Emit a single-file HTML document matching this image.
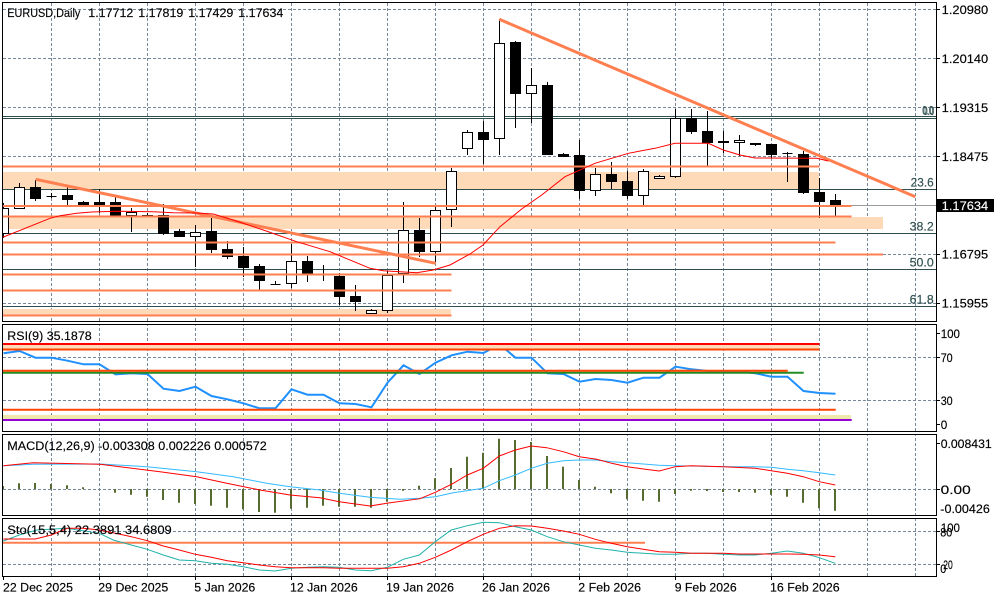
<!DOCTYPE html>
<html><head><meta charset="utf-8"><style>
html,body{margin:0;padding:0;background:#fff;width:1000px;height:600px;overflow:hidden}
svg{display:block}
text{font-family:"Liberation Sans",Arial,sans-serif;font-size:12.4px;fill:#000;stroke:#000;stroke-width:0.15px}
</style></head><body>
<svg width="1000" height="600" viewBox="0 0 1000 600" xmlns="http://www.w3.org/2000/svg">
<defs>
<clipPath id="cm"><rect x="3" y="3" width="933" height="318"/></clipPath>
<clipPath id="cr"><rect x="3" y="325" width="933" height="106"/></clipPath>
<clipPath id="cd"><rect x="3" y="435" width="933" height="80"/></clipPath>
<clipPath id="cs"><rect x="3" y="519" width="933" height="57"/></clipPath>
</defs>
<rect width="1000" height="600" fill="#fff"/>

<!-- grid -->
<g stroke="#778899" stroke-width="1" stroke-dasharray="3,2" fill="none">
<path d="M51.5 3V576M99.5 3V576M147.5 3V576M195.5 3V576M243.5 3V576M291.5 3V576M339.5 3V576M387.5 3V576M435.5 3V576M483.5 3V576M531.5 3V576M579.5 3V576M627.5 3V576M675.5 3V576M723.5 3V576M771.5 3V576M819.5 3V576M867.5 3V576M915.5 3V576"/>
<path d="M3 9.5H936M3 58.5H936M3 107.5H936M3 156.5H936M3 254.5H936M3 303.5H936M3 357.5H936M3 400.5H936M3 489.5H936M3 531.5H936M3 564.5H936"/>
</g>

<!-- MAIN PANEL -->
<g clip-path="url(#cm)">
<g fill="#FFDAB9">
<rect x="3" y="172" width="816" height="17"/>
<rect x="3" y="217" width="880" height="12"/>
<rect x="3" y="309" width="448" height="7"/>
</g>
<path d="M3 205.5H936" stroke="#9a9a9a" stroke-width="1"/>
<g stroke="#2F4F4F" stroke-width="1">
<path d="M3 116.5H936M3 118.5H936M3 189.5H936M3 233.5H936M3 269.5H936M3 306.5H936"/>
</g>
<g stroke="#000" stroke-width="1">
<path d="M3.5 203V238M19.5 183V208M35.5 180V201M51.5 193V198M67.5 187V205M83.5 201V205M99.5 189V213M115.5 197V216M131.5 208V232M147.5 213V216M163.5 204V235M179.5 229V237M195.5 225V267M211.5 218V253M227.5 241V259M243.5 247V277M259.5 264V290M275.5 281V285M291.5 244V288M307.5 256V282M323.5 265V281M339.5 273V305M355.5 285V311M371.5 309V314M387.5 271V313M403.5 202V283M419.5 218V257M435.5 206V262M451.5 168V227M467.5 130V155M483.5 121V164M499.5 19V155M515.5 41V128M531.5 68V123M547.5 82V154M563.5 153V157M579.5 140V199M595.5 168V196M611.5 162V189M627.5 171V199M643.5 169V205M659.5 175V178M675.5 109V178M691.5 109V134M707.5 111V166M723.5 131V153M739.5 135V156M755.5 143V146M771.5 144V158M787.5 152V182M803.5 151V194M819.5 178V218M835.5 194V216"/>
<path d="M46.5 196.5H56.5M270.5 284.5H280.5M782.5 153.5H792.5"/>
</g>
<g stroke="#000" stroke-width="1" fill="#fff">
<rect x="-1.5" y="208.5" width="10" height="25"/>
<rect x="14.5" y="187.5" width="10" height="21"/>
<rect x="126.5" y="212.5" width="10" height="3"/>
<rect x="190.5" y="232.5" width="10" height="4"/>
<rect x="286.5" y="261.5" width="10" height="22"/>
<rect x="366.5" y="310.5" width="10" height="3"/>
<rect x="382.5" y="275.5" width="10" height="35"/>
<rect x="398.5" y="230.5" width="10" height="43"/>
<rect x="430.5" y="210.5" width="10" height="41"/>
<rect x="446.5" y="171.5" width="10" height="38"/>
<rect x="462.5" y="132.5" width="10" height="16"/>
<rect x="494.5" y="43.5" width="10" height="95"/>
<rect x="526.5" y="85.5" width="10" height="8"/>
<rect x="590.5" y="174.5" width="10" height="16"/>
<rect x="638.5" y="171.5" width="10" height="24"/>
<rect x="654.5" y="176.5" width="10" height="2"/>
<rect x="670.5" y="118.5" width="10" height="58"/>
<rect x="734.5" y="140.5" width="10" height="2"/>
</g>
<g stroke="#000" stroke-width="1" fill="#000">
<rect x="30.5" y="187.5" width="10" height="11"/>
<rect x="62.5" y="195.5" width="10" height="4"/>
<rect x="78.5" y="202.5" width="10" height="2"/>
<rect x="94.5" y="202.5" width="10" height="3"/>
<rect x="110.5" y="202.5" width="10" height="13"/>
<rect x="142.5" y="215.5" width="10" height="1"/>
<rect x="158.5" y="215.5" width="10" height="18"/>
<rect x="174.5" y="231.5" width="10" height="5"/>
<rect x="206.5" y="231.5" width="10" height="18"/>
<rect x="222.5" y="249.5" width="10" height="7"/>
<rect x="238.5" y="256.5" width="10" height="11"/>
<rect x="254.5" y="266.5" width="10" height="14"/>
<rect x="302.5" y="261.5" width="10" height="12"/>
<rect x="334.5" y="276.5" width="10" height="20"/>
<rect x="350.5" y="296.5" width="10" height="5"/>
<rect x="414.5" y="230.5" width="10" height="21"/>
<rect x="478.5" y="132.5" width="10" height="7"/>
<rect x="510.5" y="42.5" width="10" height="51"/>
<rect x="542.5" y="85.5" width="10" height="69"/>
<rect x="558.5" y="154.5" width="10" height="2"/>
<rect x="574.5" y="155.5" width="10" height="35"/>
<rect x="606.5" y="174.5" width="10" height="7"/>
<rect x="622.5" y="181.5" width="10" height="14"/>
<rect x="686.5" y="118.5" width="10" height="13"/>
<rect x="702.5" y="131.5" width="10" height="11"/>
<rect x="718.5" y="141.5" width="10" height="1"/>
<rect x="750.5" y="143.5" width="10" height="1"/>
<rect x="766.5" y="144.5" width="10" height="10"/>
<rect x="798.5" y="154.5" width="10" height="38"/>
<rect x="814.5" y="192.5" width="10" height="9"/>
<rect x="830.5" y="200.5" width="10" height="4"/>
</g>
<g stroke="#FF7F50" stroke-width="2" fill="none">
<path d="M3 166.5H819.5M3 206H851.5M3 216.5H851.5M3 242.5H835.5M3 254.5H883M3 274.5H451.5M3 290.5H451.5M3 315.5H451.5"/>
</g>
<g stroke="#FF7F50" stroke-width="3" fill="none" stroke-linecap="butt">
<path d="M35.7 179.3L435.7 263.3"/>
<path d="M499.3 19.3L915.3 196.7"/>
</g>
<polyline fill="none" stroke="#FF0000" stroke-width="1" points="2.7,237.3 50,218.3 60,215.7 76.7,213.3 91.7,212 116.7,211.3 153.3,211.7 173.3,212.7 196.7,213 213.3,214 233.3,220 263.3,230 296.7,241.7 330,251.7 370,268.3 383.3,270.7 416.7,272.7 433.3,270 450,265 470,254 483,245 500,226.7 521.7,209 541.7,195 565,176.7 595,163.3 628.3,153.3 655,148.3 675,143.3 708.3,143.3 723.3,150 740,155 755,158 816.7,158.3 828.3,161"/>
</g>
<g>
<text x="922.3" y="114.3" style="font-size:11.5px;fill:#2F4F4F;stroke:#2F4F4F" textLength="11" lengthAdjust="spacingAndGlyphs">0.0</text>
<text x="923.3" y="114.8" style="font-size:11.5px;fill:#2F4F4F;stroke:#2F4F4F" textLength="11" lengthAdjust="spacingAndGlyphs">0.0</text>
<text x="910.7" y="186.7" style="font-size:11.5px;fill:#2F4F4F;stroke:#2F4F4F" textLength="23" lengthAdjust="spacingAndGlyphs">23.6</text>
<text x="909.7" y="230.7" style="font-size:11.5px;fill:#2F4F4F;stroke:#2F4F4F" textLength="24" lengthAdjust="spacingAndGlyphs">38.2</text>
<text x="909.7" y="266.7" style="font-size:11.5px;fill:#2F4F4F;stroke:#2F4F4F" textLength="24" lengthAdjust="spacingAndGlyphs">50.0</text>
<text x="909.7" y="303.3" style="font-size:11.5px;fill:#2F4F4F;stroke:#2F4F4F" textLength="24" lengthAdjust="spacingAndGlyphs">61.8</text>
</g>
<text x="7.3" y="17" textLength="73" lengthAdjust="spacingAndGlyphs">EURUSD,Daily</text>
<text x="88.3" y="17" textLength="45" lengthAdjust="spacingAndGlyphs">1.17712</text>
<text x="138.3" y="17" textLength="45" lengthAdjust="spacingAndGlyphs">1.17819</text>
<text x="188.3" y="17" textLength="45" lengthAdjust="spacingAndGlyphs">1.17429</text>
<text x="238.3" y="17" textLength="45" lengthAdjust="spacingAndGlyphs">1.17634</text>

<!-- RSI PANEL -->
<g clip-path="url(#cr)">
<polyline fill="none" stroke="#1E90FF" stroke-width="2" points="3.5,353.3 19.5,351 35.5,357.7 51.5,357.7 67.5,360.7 83.5,364.3 99.5,364.3 115.5,374.3 131.5,373.3 147.5,374 163.5,388.7 179.5,391 195.5,386.7 211.5,396 227.5,399.3 243.5,403.3 259.5,408.3 275.5,408.3 291.5,389.3 307.5,394.7 323.5,394.7 339.5,403.3 355.5,404 371.5,407.3 387.5,382.7 403.5,365.3 419.5,374 435.5,362.7 451.5,355.3 467.5,351.7 483.5,353 499.5,344.3 515.5,357.7 531.5,357.7 547.5,373.3 563.5,374 579.5,381.7 595.5,379 611.5,380 627.5,382.7 643.5,377.7 659.5,377.7 675.5,366.7 691.5,369.3 707.5,371 723.5,371.7 739.5,371.7 755.5,373.3 771.5,376.7 787.5,376.7 803.5,391 819.5,393 835.5,393.7"/>
<rect x="3" y="345" width="816" height="4" fill="#FFDAB9"/>
<rect x="3" y="415" width="848" height="4" fill="#EEE8AA"/>
<g fill="none" stroke-width="2">
<path d="M3 344H819.5" stroke="#FF0000"/>
<path d="M3 349.5H819.5" stroke="#FF4500"/>
<path d="M3 372.7H803.7" stroke="#228B22"/>
<path d="M3 370.8H787.7" stroke="#FF4500"/>
<path d="M3 409.7H835.7" stroke="#FF4500"/>
<path d="M3 420H851.7" stroke="#9400D3"/>
</g>
</g>
<text x="7.3" y="339.9" textLength="84.4" lengthAdjust="spacingAndGlyphs">RSI(9) 35.1878</text>

<!-- MACD PANEL -->
<g clip-path="url(#cd)">
<path fill="none" stroke="#556B2F" stroke-width="2" d="M3 489V486M19 489V483.3M35 489V483M51 489V484M67 489V485.3M83 489V487.3M115 489V492.7M131 489V494.7M147 489V496.7M163 489V500M179 489V502.7M195 489V504M211 489V505.7M227 489V507.7M243 489V509.3M259 489V512M275 489V512.7M291 489V508.7M307 489V507.7M323 489V505.7M339 489V506.7M355 489V506.7M371 489V507.7M387 489V501.7M403 489V490.7M419 489V485.7M435 489V478.3M451 489V468M467 489V456.7M483 489V452.7M499 489V438.7M515 489V440M531 489V442M547 489V456M563 489V466.7M579 489V480M595 489V486.7M611 489V493.3M627 489V499.3M643 489V500.7M659 489V501.7M675 489V494M691 489V490.7M707 489V491M723 489V492M739 489V492M755 489V492.7M771 489V494.7M787 489V496.7M803 489V502.7M819 489V508.3M835 489V510.7"/>
<polyline fill="none" stroke="#33BBFF" stroke-width="1" points="3.3,465.7 33.3,464.3 100,464 146.7,466.7 196.7,471.7 233.3,476.7 266.7,483.3 290,486.7 320,490 339.3,493.3 370,497.3 400,499.3 420,498.3 435.3,496.7 453.3,492.7 483.3,488.3 499.3,480.7 515.3,475 531.3,468.3 547.3,463.3 563.3,460.7 579.3,460 595.3,460 611.7,461.7 627.3,462.7 643.3,464 659.3,465.3 675.3,465.7 691.3,466 723.3,466.7 755.3,466.7 771.3,467.3 787.3,469.3 803.3,470.7 819.3,472.7 835.3,475"/>
<polyline fill="none" stroke="#FF0000" stroke-width="1" points="3.3,465.7 33.3,462.7 100,464.3 160,471.7 196.7,476.7 226.7,483.3 260,490 290,495 320,497.7 339.3,501.7 370,506 386.7,503.3 420,498.7 435.3,492.3 453.3,483.3 467.3,475 483.3,468.3 499.3,456 515.3,450 531.3,446 546.7,447.7 563.3,451.7 579.3,456.7 596.7,459.3 611.7,463.3 627.3,466.7 643.3,469 659.3,471 675.3,466.7 691.3,465.7 723.3,466.7 755.3,468.3 771.3,470.7 787.3,473.3 803.3,476.7 819.3,481.7 835.3,485"/>
</g>
<text x="7.3" y="449.9" textLength="259.4" lengthAdjust="spacingAndGlyphs">MACD(12,26,9) -0.003308 0.002226 0.000572</text>

<!-- STO PANEL -->
<g clip-path="url(#cs)">
<path d="M3 542.7H645" stroke="#FF7F50" stroke-width="2" fill="none"/>
<polyline fill="none" stroke="#20B2AA" stroke-width="1" points="3.3,541 19.3,535 36.7,530 66.7,528.3 99.3,533.3 113.3,540 131.3,545 147.3,549.3 163.3,555 179.3,560 195.3,560.7 211.3,563.3 227.3,564.3 243.3,566.7 259.3,570 275.3,571 291.3,568.3 307.3,567.3 323.3,566.7 339.3,567.3 355.3,570 371.3,570.7 387.3,567.3 403.3,559.3 419.3,555 435.3,541.7 451.3,530 467.3,525.7 483.3,522.3 499.3,522.7 515.3,526.7 531.3,530 547.3,536.7 563.3,541.7 579.3,545 595.3,548.3 611.3,550 627.3,552.3 643.3,553.3 659.3,554.3 675.3,554.3 691.3,553.3 707.3,553.3 723.3,554.3 739.3,555 755.3,555 771.3,553.3 787.3,551 803.3,553.3 819.3,557.7 835.3,563.3"/>
<polyline fill="none" stroke="#FF0000" stroke-width="1" points="3.3,539 35.3,539 51.3,535 67.3,528.3 83.3,528.3 99.3,530 115.3,533.3 131.3,536.7 147.3,540.7 163.3,546 179.3,550 195.3,554.3 211.3,557.3 227.3,560.7 243.3,562.7 259.3,565 275.3,566.7 291.3,567.7 307.3,567.7 323.3,567.7 339.3,568.3 355.3,568.3 371.3,568.3 387.3,568.3 403.3,566.7 419.3,563.3 435.3,557.3 451.3,550 467.3,541.7 483.3,534.3 499.3,528.3 515.3,525.7 531.3,526 547.3,528.3 563.3,531 579.3,534.3 595.3,539.3 611.3,543.3 627.3,546.7 643.3,549.3 659.3,551.7 675.3,552.3 691.3,553.3 707.3,553.3 723.3,553.3 739.3,554 755.3,554 771.3,554 787.3,554 803.3,554.3 819.3,555 835.3,556.7"/>
</g>
<text x="7.3" y="533.8" textLength="164.4" lengthAdjust="spacingAndGlyphs">Sto(15,5,4) 22.3891 34.6809</text>

<!-- panel gaps and frames -->
<g fill="#fff">
<rect x="0" y="322" width="937" height="2"/>
<rect x="0" y="432" width="937" height="2"/>
<rect x="0" y="516" width="937" height="2"/>
</g>
<g fill="none" stroke="#000" stroke-width="1">
<rect x="2.5" y="2.5" width="934" height="319"/>
<rect x="2.5" y="324.5" width="934" height="107"/>
<rect x="2.5" y="434.5" width="934" height="81"/>
<rect x="2.5" y="518.5" width="934" height="58"/>
<path d="M936.5 9.5H940M936.5 58.5H940M936.5 107.5H940M936.5 156.5H940M936.5 254.5H940M936.5 303.5H940M936.5 333.5H940M936.5 357.5H940M936.5 400.5H940M936.5 424.5H940M936.5 443.5H940M936.5 489.5H940M936.5 531.5H940M936.5 564.5H940"/>
<path d="M3.5 576V580M99.5 576V580M195.5 576V580M291.5 576V580M387.5 576V580M483.5 576V580M579.5 576V580M675.5 576V580M771.5 576V580"/>
</g>

<!-- price axis labels -->
<text x="941.7" y="14" textLength="46.5" lengthAdjust="spacingAndGlyphs">1.20980</text>
<text x="941.7" y="63" textLength="46.5" lengthAdjust="spacingAndGlyphs">1.20140</text>
<text x="941.7" y="112" textLength="46.5" lengthAdjust="spacingAndGlyphs">1.19315</text>
<text x="941.7" y="161" textLength="46.5" lengthAdjust="spacingAndGlyphs">1.18475</text>
<rect x="937" y="199" width="57" height="13" fill="#000"/>
<text x="941.7" y="210" style="fill:#fff;stroke:#fff" textLength="46.5" lengthAdjust="spacingAndGlyphs">1.17634</text>
<text x="941.7" y="258.7" textLength="46.5" lengthAdjust="spacingAndGlyphs">1.16795</text>
<text x="941.7" y="307.7" textLength="46.5" lengthAdjust="spacingAndGlyphs">1.15955</text>

<text x="940.7" y="338" textLength="19.3" lengthAdjust="spacingAndGlyphs">100</text>
<text x="940.7" y="362" textLength="12" lengthAdjust="spacingAndGlyphs">70</text>
<text x="940.7" y="405" textLength="12" lengthAdjust="spacingAndGlyphs">30</text>
<text x="940.7" y="429" textLength="6.5" lengthAdjust="spacingAndGlyphs">0</text>
<text x="940.7" y="448" textLength="51" lengthAdjust="spacingAndGlyphs">0.008431</text>
<text x="940.7" y="494" textLength="30" lengthAdjust="spacingAndGlyphs">0.00</text>
<text x="940.3" y="513" textLength="49.5" lengthAdjust="spacingAndGlyphs">-0.00426</text>
<text x="940.7" y="532" textLength="19.3" lengthAdjust="spacingAndGlyphs">100</text>
<text x="940.3" y="536.6" textLength="12" lengthAdjust="spacingAndGlyphs">80</text>
<text x="943.3" y="569" textLength="9.5" lengthAdjust="spacingAndGlyphs">20</text>
<text x="940.3" y="573" textLength="6" lengthAdjust="spacingAndGlyphs">0</text>

<text x="3" y="591.5" textLength="70" lengthAdjust="spacingAndGlyphs">22 Dec 2025</text>
<text x="98.3" y="591.5" textLength="70" lengthAdjust="spacingAndGlyphs">29 Dec 2025</text>
<text x="194.3" y="591.5" textLength="61" lengthAdjust="spacingAndGlyphs">5 Jan 2026</text>
<text x="290" y="591.5" textLength="67.7" lengthAdjust="spacingAndGlyphs">12 Jan 2026</text>
<text x="386" y="591.5" textLength="68" lengthAdjust="spacingAndGlyphs">19 Jan 2026</text>
<text x="482" y="591.5" textLength="68" lengthAdjust="spacingAndGlyphs">26 Jan 2026</text>
<text x="578.3" y="591.5" textLength="62.7" lengthAdjust="spacingAndGlyphs">2 Feb 2026</text>
<text x="674.7" y="591.5" textLength="62" lengthAdjust="spacingAndGlyphs">9 Feb 2026</text>
<text x="770" y="591.5" textLength="69.7" lengthAdjust="spacingAndGlyphs">16 Feb 2026</text>
</svg>
</body></html>
